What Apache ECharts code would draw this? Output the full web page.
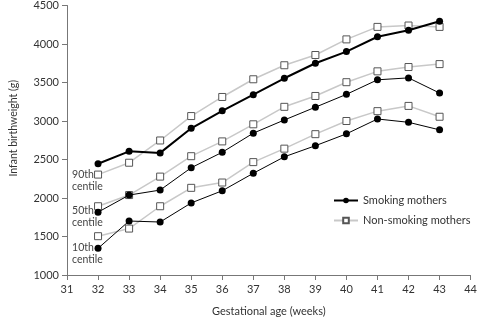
<!DOCTYPE html>
<html><head><meta charset="utf-8">
<script src="https://cdn.jsdelivr.net/npm/echarts@6/dist/echarts.min.js"></script>
<style>html,body{margin:0;padding:0;background:#fff}#c{width:480px;height:322px}</style>
</head><body><div id="c"></div>
<script>
var weeks = [32,33,34,35,36,37,38,39,40,41,42,43];
var smoking90 = [2445,2606,2586,2905,3132,3342,3555,3750,3901,4094,4179,4295];
var smoking50 = [1816,2038,2103,2393,2594,2842,3013,3179,3346,3535,3560,3363];
var smoking10 = [1346,1701,1688,1936,2094,2321,2535,2679,2833,3026,2983,2885];
var nonsmoking90 = [2304,2458,2747,3064,3312,3542,3724,3857,4060,4222,4240,4222];
var nonsmoking50 = [1893,2038,2278,2543,2735,2957,3184,3325,3504,3645,3701,3739];
var nonsmoking10 = [1504,1603,1893,2132,2201,2466,2641,2829,3000,3128,3196,3055];
var centileLabels = [["90th","centile",2308],["50th","centile",1833],["10th","centile",1359]];

function pairs(v){ return weeks.map(function(w,i){ return [w, v[i]]; }); }
var FONT = 'Lato';
var chart = echarts.init(document.getElementById('c'));
function nonSeries(v){
  return {name:'Non-smoking mothers', type:'line', data:pairs(v), symbol:'rect', symbolSize:7,
    lineStyle:{color:'#c8c8c8', width:1.5}, itemStyle:{color:'#fff', borderColor:'#555', borderWidth:1},
    emphasis:{disabled:true}, z:2};
}
function smokSeries(v, w){
  return {name:'Smoking mothers', type:'line', data:pairs(v), symbol:'circle', symbolSize:7,
    lineStyle:{color:'#000', width:w}, itemStyle:{color:'#000', borderWidth:0},
    emphasis:{disabled:true}, z:3};
}
var option = {
  animation:false,
  textStyle:{fontFamily:FONT},
  grid:{left:62, right:7, top:4, bottom:45},
  xAxis:{type:'value', min:31, max:44, interval:1,
    name:'Gestational age (weeks)', nameLocation:'middle', nameGap:31,
    nameTextStyle:{color:'#333', fontSize:11, fontFamily:FONT},
    axisLine:{lineStyle:{color:'#777', width:1}},
    axisTick:{show:true, length:5, lineStyle:{color:'#777'}},
    axisLabel:{color:'#333', fontSize:11, margin:9, fontFamily:FONT},
    splitLine:{show:false}},
  yAxis:{type:'value', min:1000, max:4500, interval:500,
    name:'Infant birthweight (g)', nameLocation:'middle', nameGap:48, nameRotate:90,
    nameTextStyle:{color:'#333', fontSize:10.5, fontFamily:FONT, padding:[0,0,0,24]},
    axisLine:{show:true, lineStyle:{color:'#777', width:1}},
    axisTick:{show:true, length:5, lineStyle:{color:'#777'}},
    axisLabel:{color:'#333', fontSize:11, margin:8, fontFamily:FONT,
      formatter:function(v){ return String(v); }},
    splitLine:{show:false}},
  legend:{data:['Smoking mothers','Non-smoking mothers'], orient:'vertical', left:328, top:190,
    itemWidth:24, itemHeight:7, itemGap:9, selectedMode:false,
    textStyle:{color:'#333', fontSize:11, fontFamily:FONT}},
  series:[nonSeries(nonsmoking90), nonSeries(nonsmoking50), nonSeries(nonsmoking10),
    smokSeries(smoking90, 2), smokSeries(smoking50, 1), smokSeries(smoking10, 1)]
};
chart.setOption(option);
var g = [];
centileLabels.forEach(function(c){
  var p = chart.convertToPixel({gridIndex:0}, [weeks[0], c[2]]);
  g.push({type:'text', x:p[0]-26, y:p[1],
    style:{text:c[0], fill:'#444', font:'10.5px '+FONT, verticalAlign:'middle'}});
  g.push({type:'text', x:p[0]-26, y:p[1]+12,
    style:{text:c[1], fill:'#444', font:'10.5px '+FONT, verticalAlign:'middle'}});
});
chart.setOption({graphic:g});
</script></body></html>
